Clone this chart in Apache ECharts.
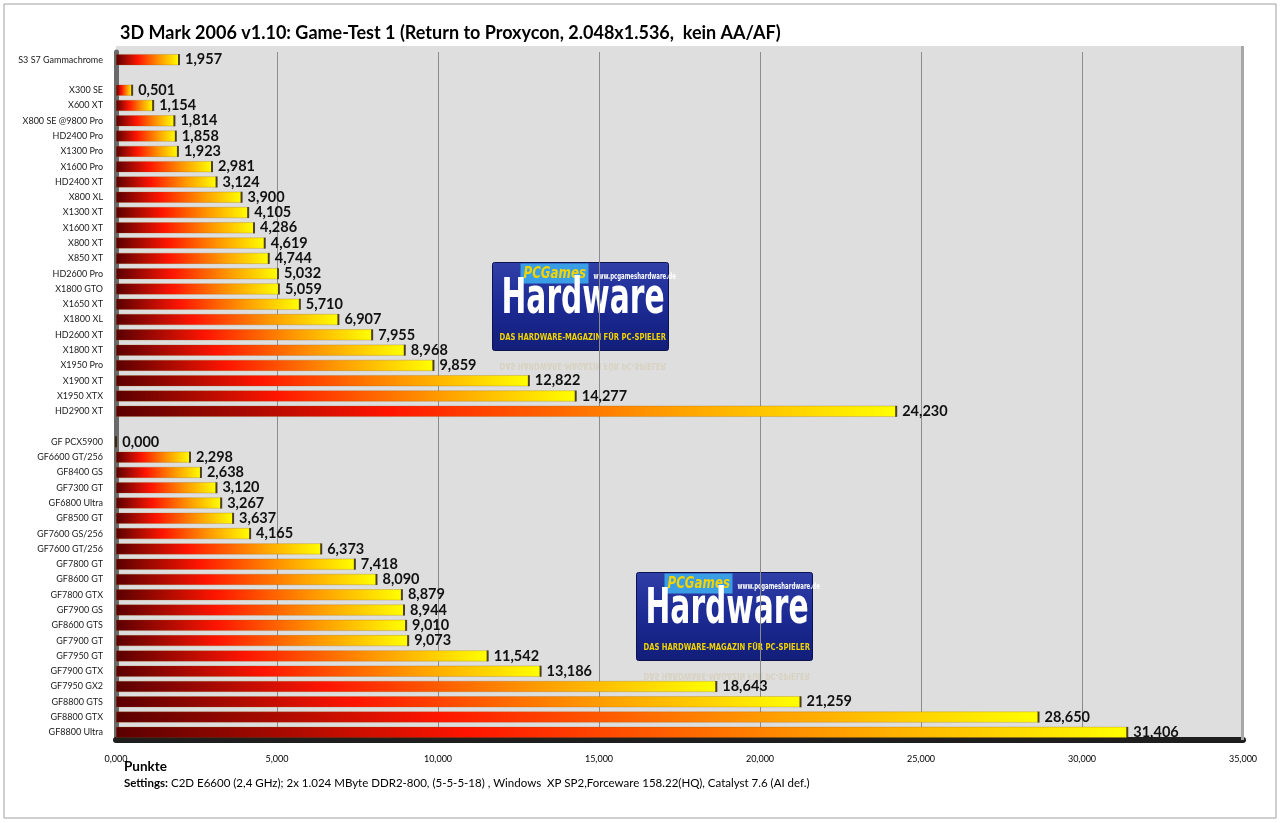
<!DOCTYPE html>
<html>
<head>
<meta charset="utf-8">
<script src="https://cdn.jsdelivr.net/npm/echarts@6/dist/echarts.min.js"></script>
<style>
  html, body { margin: 0; padding: 0; background: #fff; }
  #chart { width: 1280px; height: 823px; }
</style>
</head>
<body>
<div id="chart"></div>
<script>
// cards, top to bottom ('' = empty row between the groups)
const cards = [
  'S3 S7 Gammachrome', '',
  'X300 SE', 'X600 XT', 'X800 SE @9800 Pro', 'HD2400 Pro', 'X1300 Pro', 'X1600 Pro',
  'HD2400 XT', 'X800 XL', 'X1300 XT', 'X1600 XT', 'X800 XT', 'X850 XT', 'HD2600 Pro',
  'X1800 GTO', 'X1650 XT', 'X1800 XL', 'HD2600 XT', 'X1800 XT', 'X1950 Pro', 'X1900 XT',
  'X1950 XTX', 'HD2900 XT', '',
  'GF PCX5900', 'GF6600 GT/256', 'GF8400 GS', 'GF7300 GT', 'GF6800 Ultra', 'GF8500 GT',
  'GF7600 GS/256', 'GF7600 GT/256', 'GF7800 GT', 'GF8600 GT', 'GF7800 GTX', 'GF7900 GS',
  'GF8600 GTS', 'GF7900 GT', 'GF7950 GT', 'GF7900 GTX', 'GF7950 GX2', 'GF8800 GTS',
  'GF8800 GTX', 'GF8800 Ultra'
]
// Punkte
const punkte = [
  1.957, null,
  0.501, 1.154, 1.814, 1.858, 1.923, 2.981,
  3.124, 3.900, 4.105, 4.286, 4.619, 4.744, 5.032,
  5.059, 5.710, 6.907, 7.955, 8.968, 9.859, 12.822,
  14.277, 24.230, null,
  0.000, 2.298, 2.638, 3.120, 3.267, 3.637,
  4.165, 6.373, 7.418, 8.090, 8.879, 8.944,
  9.010, 9.073, 11.542, 13.186, 18.643, 21.259,
  28.650, 31.406
]
const xTicks = { min: 0, max: 35, interval: 5 }

const fmt = v => v.toFixed(3).replace('.', ',')

// PCGH logo badge drawn with graphic elements
function logo(x, y) {
  const tag = 'DAS HARDWARE-MAGAZIN FÜR PC-SPIELER'
  return {
    type: 'group', left: x, top: y, z: 50,
    children: [
      { type: 'rect', shape: { x: 0, y: 0, width: 176, height: 88, r: 2 },
        style: { fill: new echarts.graphic.LinearGradient(0, 0, 0, 1, [
          { offset: 0, color: '#3040a8' }, { offset: 0.5, color: '#1c2a94' }, { offset: 1, color: '#121e78' }
        ]), stroke: '#0c1450', lineWidth: 1 } },
      { type: 'rect', shape: { x: 28, y: 1, width: 68, height: 20 }, style: { fill: '#3a9ee6' } },
      { type: 'text', x: 31, y: 3, scaleX: 0.74, style: { text: 'PCGames', fill: '#f2d400', font: 'italic bold 16px "DejaVu Sans"' } },
      { type: 'text', x: 101, y: 10, scaleX: 0.6, style: { text: 'www.pcgameshardware.de', fill: '#fff', font: 'bold 9px "DejaVu Sans"' } },
      { type: 'text', x: 9, y: 13, scaleX: 0.66, style: { text: 'Hardware', fill: '#fff', font: 'bold 50px "DejaVu Sans Condensed"' } },
      { type: 'text', x: 7, y: 70, scaleX: 0.8, style: { text: tag, fill: '#f2d400', font: 'bold 9.5px "DejaVu Sans Condensed"' } },
      { type: 'text', x: 7, y: 108, scaleX: 0.8, scaleY: -1, style: { text: tag, fill: 'rgba(190,170,90,0.22)', font: 'bold 9.5px "DejaVu Sans Condensed"' } }
    ]
  }
}

const barColor = new echarts.graphic.LinearGradient(0, 0, 1, 0, [
  { offset: 0, color: '#5a0000' },
  { offset: 0.35, color: '#ff1500' },
  { offset: 0.7, color: '#ff9a00' },
  { offset: 1, color: '#ffff00' }
])

const chart = echarts.init(document.getElementById('chart'))
chart.setOption({
  animation: false,
  backgroundColor: '#fff',
  textStyle: { fontFamily: 'Lato' },
  grid: { left: 116, right: 37, top: 52, bottom: 83, show: true, backgroundColor: '#dedede', borderWidth: 0 },
  graphic: [
    { type: 'rect', shape: { x: 4, y: 4, width: 1272, height: 814 }, style: { fill: 'none', stroke: '#a0a0a0', lineWidth: 1 }, z: -1 },
    { type: 'rect', shape: { x: 116, y: 46, width: 1127, height: 8 }, style: { fill: '#dedede' }, z: -1 },
    { type: 'rect', shape: { x: 1241, y: 46, width: 3, height: 694 }, style: { fill: '#a8a8a8' }, z: 1 },
    { type: 'text', left: 120, top: 24, style: { text: '3D Mark 2006 v1.10: Game-Test 1 (Return to Proxycon, 2.048x1.536,  kein AA/AF)', font: 'bold 18px Lato', fill: '#000' } },
    { type: 'text', left: 124, top: 760, style: { text: 'Punkte', font: 'bold 13.5px Lato', fill: '#000' } },
    { type: 'text', left: 124, top: 777, style: {
      text: '{b|Settings:} C2D E6600 (2,4 GHz); 2x 1.024 MByte DDR2-800, (5-5-5-18) , Windows  XP SP2,Forceware 158.22(HQ), Catalyst 7.6 (AI def.)',
      font: '11.5px Lato', fill: '#000',
      rich: { b: { fontWeight: 'bold', fontSize: 11.5, fontFamily: 'Lato' } } } },
    logo(492, 262),
    logo(636, 572)
  ],
  xAxis: {
    type: 'value', min: xTicks.min, max: xTicks.max, interval: xTicks.interval,
    axisLine: { show: true, onZero: false, lineStyle: { color: '#1e1e1e', width: 6 } },
    axisTick: { show: false },
    axisLabel: { formatter: fmt, color: '#000', fontSize: 9, margin: 15 },
    splitLine: { lineStyle: { color: '#8c8c8c', width: 1 } }
  },
  yAxis: {
    type: 'category', data: cards, inverse: true,
    axisLine: { lineStyle: { color: '#6a6a6a', width: 5 } },
    axisTick: { show: false },
    axisLabel: { color: '#1a1a1a', fontSize: 9, margin: 13, interval: 0 }
  },
  series: [
    {
      type: 'bar', data: punkte, barWidth: 11, z: 2,
      itemStyle: { color: barColor, borderColor: 'rgba(150,90,0,0.5)', borderWidth: 0.5 },
      label: { show: true, position: 'right', distance: 6, formatter: p => fmt(p.value),
        color: '#111', fontSize: 14.5, fontWeight: 'bold', fontFamily: 'Lato' }
    },
    {
      type: 'scatter', symbol: 'rect', symbolSize: [2, 11], z: 3,
      data: punkte.map((v, i) => v == null ? null : [v, i]),
      itemStyle: { color: '#2a1a00' }, silent: true
    }
  ]
})
</script>
</body>
</html>
